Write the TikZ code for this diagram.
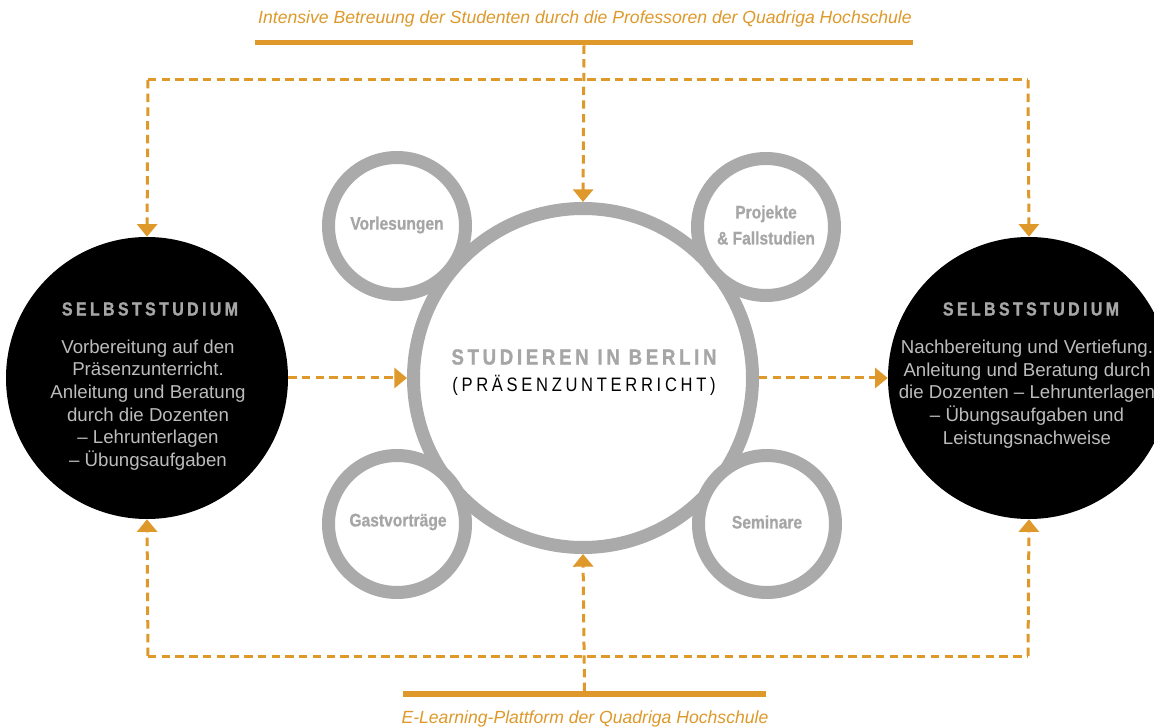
\documentclass[tikz,border=0pt]{standalone}
\usepackage{fontspec}
\setmainfont{Liberation Sans}
\newfontfamily\condfont{Liberation Sans}[FakeStretch=0.86,FakeBold=0.8]
\newfontfamily\spacedfont{Liberation Sans}[FakeStretch=0.84,LetterSpace=18,FakeBold=1.2]
\newfontfamily\spacedbig{Liberation Sans}[FakeStretch=0.85,LetterSpace=17,FakeBold=1.2]
\newfontfamily\spacedlight{Liberation Sans}[FakeStretch=0.85,LetterSpace=19]
\usetikzlibrary{arrows.meta}
\definecolor{qorange}{RGB}{222,153,42}
\definecolor{ringgray}{RGB}{170,170,170}
\definecolor{labelgray}{RGB}{166,166,166}
\definecolor{bodygray}{RGB}{188,188,188}
\tikzset{
  dashline/.style={draw=qorange, line width=2.25pt, dash pattern=on 6.3pt off 4pt},
  tipline/.style={dashline, -{Triangle[width=15pt,length=9.5pt]}},
  bar/.style={fill=qorange, draw=none, inner sep=0pt, minimum height=3.9pt},
  bigring/.style={circle, draw=ringgray, line width=9.75pt, fill=white, minimum size=254.25pt, inner sep=0pt},
  smallring/.style={circle, draw=ringgray, line width=9.75pt, fill=white, minimum size=102.75pt, inner sep=0pt},
  blackdisc/.style={circle, fill=black, draw=none, minimum size=211.5pt, inner sep=0pt},
  smalllabel/.style={text=labelgray, font=\condfont\bfseries\fontsize{13.6pt}{19.5pt}\selectfont, align=center, inner sep=0pt},
  heading/.style={text=labelgray, font=\spacedfont\bfseries\fontsize{14.2pt}{15pt}\selectfont, inner sep=0pt},
  bodytext/.style={text=bodygray, font=\fontsize{14pt}{16.95pt}\selectfont, align=center, inner sep=0pt},
  orangetext/.style={text=qorange, font=\itshape\fontsize{13.2pt}{15pt}\selectfont, inner sep=0pt}
}
\begin{document}
\begin{tikzpicture}[x=0.75pt,y=-0.75pt]
\fill[white] (0,0) rectangle (1154,727);
\useasboundingbox (0,0) rectangle (1154,727);

% bars and captions
\node[orangetext] (toptext) at (585,19) {Intensive Betreuung der Studenten durch die Professoren der Quadriga Hochschule};
\node[bar, minimum width=493.5pt] (topbar) at (584,42.5) {};
\node[orangetext] (bottext) at (585,719) {E-Learning-Plattform der Quadriga Hochschule};
\node[bar, minimum width=272.25pt] (botbar) at (584.5,694) {};

% coordinates for the dashed frames
\coordinate (tl) at (148,80);
\coordinate (tr) at (1028,80);
\coordinate (bl) at (148,656);
\coordinate (br) at (1028,656);

% circles
\node[blackdisc] (left) at (147,378) {};
\node[blackdisc] (right) at (1029,378) {};
\node[bigring] (big) at (583,378) {};
\node[smallring] (vor) at (397,226) {};
\node[smallring] (pro) at (766,227) {};
\node[smallring] (gast) at (397,524) {};
\node[smallring] (sem) at (767,524) {};

% connectors
\draw[dashline] (tl) -- (tr);
\draw[dashline] (bl) -- (br);
\draw[tipline] (tl) -- (left.north);
\draw[tipline] (tr) -- (right.north);
\draw[tipline] (bl) -- (left.south);
\draw[tipline] (br) -- (right.south);
\draw[tipline] (topbar.south) -- (big.north);
\draw[tipline] (botbar.north) -- (big.south);
\draw[tipline] (left.east) -- (big.west);
\draw[tipline] (big.east) -- (right.west);

% labels in small circles
\node[smalllabel] (vorlab) at (397,225) {Vorlesungen};
\node[smalllabel] (prolab) at (766,225) {Projekte\\\& Fallstudien};
\node[smalllabel] (gastlab) at (398,522) {Gastvorträge};
\node[smalllabel] (semlab) at (767,522) {Seminare};

% center text
\node[text=labelgray, font=\spacedbig\bfseries\fontsize{16.4pt}{18pt}\selectfont, inner sep=0pt] (studlab) at (584,357) {STUDIEREN IN BERLIN};
\node[text=black, font=\spacedlight\fontsize{14.6pt}{18pt}\selectfont, inner sep=0pt] (praeslab) at (584,385) {(PRÄSENZUNTERRICHT)};

% left disc text
\node[heading] (lhead) at (150,309) {SELBSTSTUDIUM};
\node[bodytext] (lbody) at (148,405) {Vorbereitung auf den\\Präsenzunterricht.\\Anleitung und Beratung\\durch die Dozenten\\– Lehrunterlagen\\– Übungsaufgaben};

% right disc text
\node[heading] (rhead) at (1031,309) {SELBSTSTUDIUM};
\node[bodytext] (rbody) at (1027,394) {Nachbereitung und Vertiefung.\\Anleitung und Beratung durch\\die Dozenten – Lehrunterlagen\\– Übungsaufgaben und\\Leistungsnachweise};
\end{tikzpicture}
\end{document}
